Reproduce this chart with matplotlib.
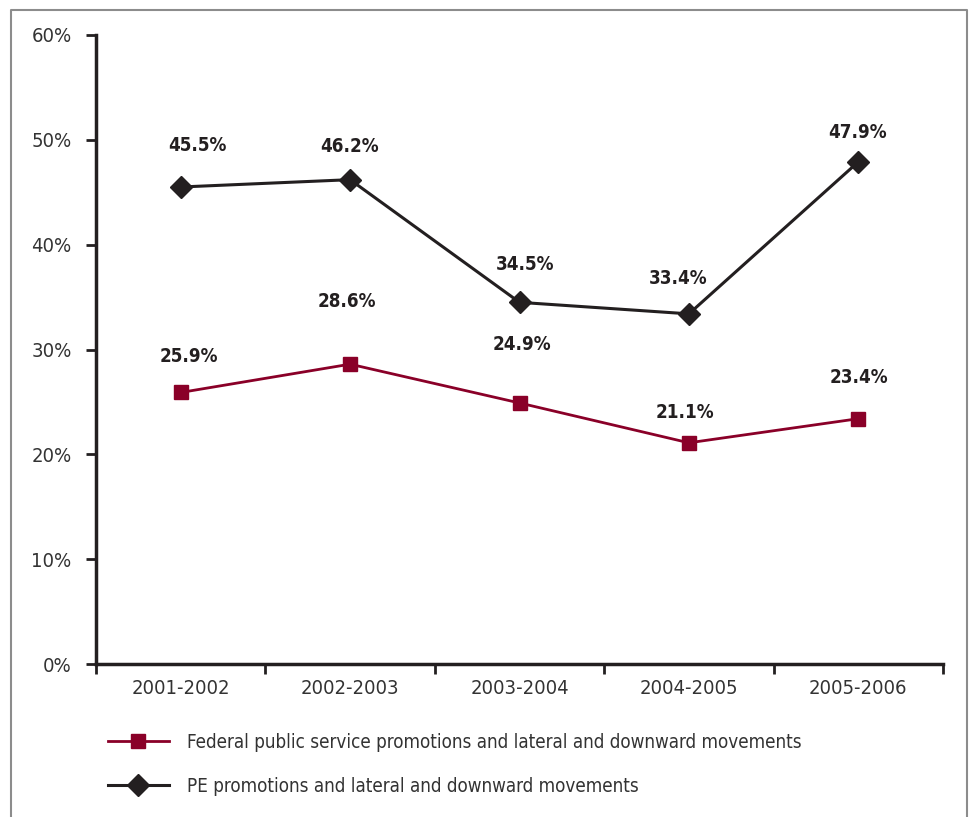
import matplotlib
matplotlib.use("Agg")
import matplotlib.pyplot as plt
from matplotlib import font_manager

# ---- data -------------------------------------------------------------
periods = ["2001-2002", "2002-2003", "2003-2004", "2004-2005", "2005-2006"]
fps_values = [25.9, 28.6, 24.9, 21.1, 23.4]   # Federal public service
pe_values = [45.5, 46.2, 34.5, 33.4, 47.9]    # PE
fps_label = "Federal public service promotions and lateral and downward movements"
pe_label = "PE promotions and lateral and downward movements"
y_ticks = [0, 10, 20, 30, 40, 50, 60]

# label offsets in pixels (dx, dy) from each point
fps_offsets = [(8, 36), (-3, 63), (2, 58), (-4, 30), (1, 41)]
pe_offsets = [(17, 42), (-1, 33), (6, 38), (-11, 35), (-1, 29)]

# ---- style ------------------------------------------------------------
names = {f.name for f in font_manager.fontManager.ttflist}
family = "Liberation Sans Narrow" if "Liberation Sans Narrow" in names else "DejaVu Sans"
plt.rcParams["font.family"] = [family, "DejaVu Sans"]
if family == "DejaVu Sans":
    plt.rcParams["font.stretch"] = "condensed"

RED = "#8a0028"
BLACK = "#231f20"
TEXT = "#333333"

W, H = 969, 817
fig = plt.figure(figsize=(W / 100, H / 100), dpi=100)
ax = fig.add_axes([96 / W, 1 - 664 / H, (943 - 96) / W, (664 - 35) / H])

# outer frame (no bottom edge)
fx0, fx1, fy0 = 11 / W, 967 / W, 1 - 10 / H
fig.add_artist(plt.Line2D([fx0, fx0, fx1, fx1], [0, fy0, fy0, 0],
                          transform=fig.transFigure, color="#8c8c8c", lw=1.5))

xs = [i + 0.5 for i in range(len(periods))]

ax.plot(xs, fps_values, color=RED, lw=2, marker="s", markersize=10,
        markerfacecolor=RED, markeredgecolor=RED, label=fps_label, zorder=3)
ax.plot(xs, pe_values, color=BLACK, lw=2.2, marker="D", markersize=11,
        markerfacecolor=BLACK, markeredgecolor=BLACK, label=pe_label, zorder=3)

for vals, offs in ((fps_values, fps_offsets), (pe_values, pe_offsets)):
    for x, v, (dx, dy) in zip(xs, vals, offs):
        ax.annotate(f"{v:.1f}%", (x, v), xytext=(dx, dy), textcoords="offset pixels",
                    ha="center", va="center", fontsize=13.5, fontweight="bold",
                    color=BLACK)

ax.set_xlim(0, len(periods))
ax.set_ylim(0, 60)
ax.set_yticks(y_ticks)
ax.set_yticklabels([f"{t}%" for t in y_ticks])

# category boundaries get the ticks, names sit in the middle
ax.set_xticks(range(len(periods) + 1))
ax.set_xticklabels([])
ax.set_xticks(xs, minor=True)
ax.set_xticklabels(periods, minor=True)
ax.tick_params(axis="x", which="minor", length=0, pad=11, labelsize=14.5, labelcolor=TEXT)
ax.tick_params(axis="x", which="major", length=7.5, width=2, direction="out", color=BLACK)
ax.tick_params(axis="y", length=7.5, width=2, direction="out", color=BLACK,
               labelsize=14.5, labelcolor=TEXT, pad=10)

for side in ("top", "right"):
    ax.spines[side].set_visible(False)
for side in ("left", "bottom"):
    ax.spines[side].set_linewidth(2.5)
    ax.spines[side].set_color(BLACK)

fig.legend(loc="upper left", bbox_to_anchor=(100 / W, 1 - 725 / H),
           frameon=False, fontsize=13.5, handlelength=3.3, handletextpad=0.95,
           labelspacing=1.35, borderaxespad=0, labelcolor=TEXT)

fig.savefig("out.png", dpi=100)
